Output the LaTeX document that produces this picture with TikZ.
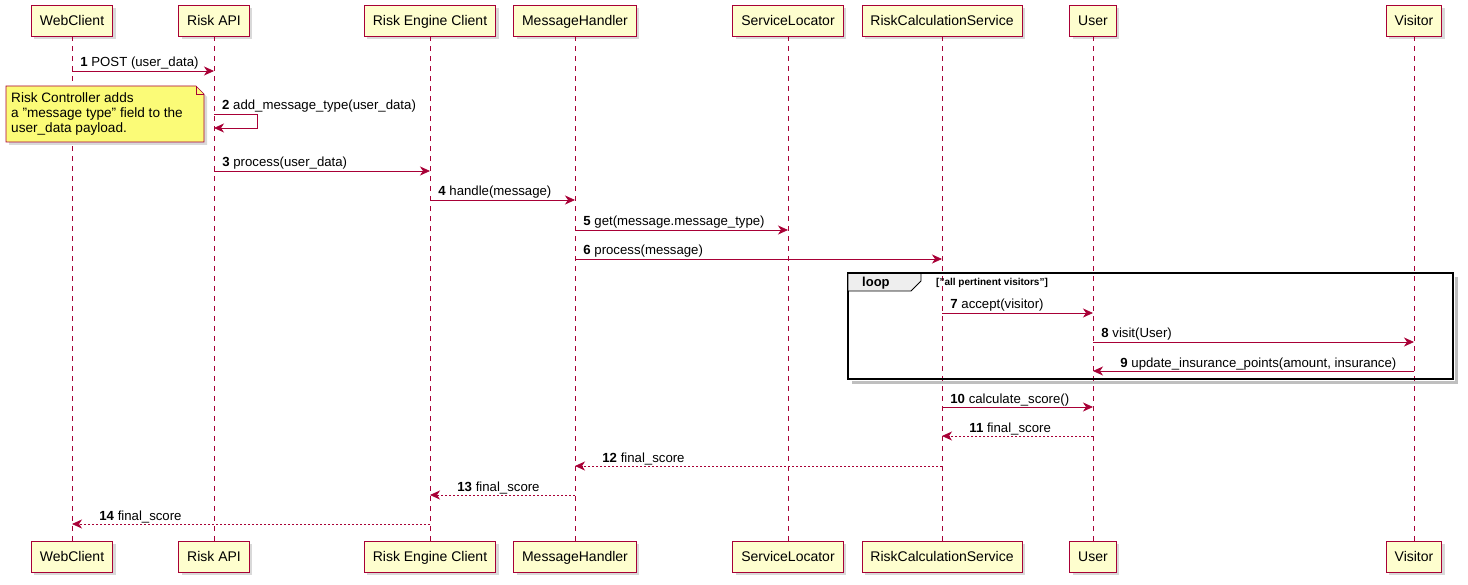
\documentclass[tikz,border=0pt]{standalone}
\usepackage{fontspec}
\setmainfont{Liberation Sans}
\usepackage{xcolor}
\usetikzlibrary{arrows.meta,shadows}
\definecolor{umlred}{HTML}{A80036}
\definecolor{partfill}{HTML}{FEFECE}
\definecolor{notefill}{HTML}{FBFB77}
\definecolor{tabgray}{HTML}{EEEEEE}

\tikzset{
  part/.style={draw=umlred, fill=partfill, line width=0.8pt, minimum height=31pt, inner xsep=8.5pt,
    text height=11pt, text depth=1pt, font=\fontsize{14}{16}\selectfont,
    drop shadow={shadow xshift=3pt, shadow yshift=-3pt, opacity=0.3}},
  life/.style={umlred, line width=0.7pt, dash pattern=on 5pt off 5pt},
  call/.style={umlred, line width=0.8pt, -{Stealth[length=10pt, width=9pt, inset=3pt]}},
  reply/.style={call, dash pattern=on 2pt off 2pt},
  lblR/.style={anchor=base west, xshift=8pt, yshift=4pt, inner sep=0pt, text=black,
    font=\fontsize{13.2}{15}\selectfont},
  lblL/.style={lblR, xshift=19pt}
}

\begin{document}
\begin{tikzpicture}[x=1pt, y=-1pt]
\useasboundingbox (0,0) rectangle (1468,585);

% participants
\foreach \nm/\xx/\txt in {wc/72/WebClient, api/214/Risk API, rec/430/Risk Engine Client,
    mh/575/MessageHandler, sl/788/ServiceLocator, rcs/942/RiskCalculationService,
    usr/1093/User, vis/1414/Visitor}{
  \node[part] (\nm) at (\xx,20.5) {\txt};
  \node[part] (\nm B) at (\xx,556.5) {\txt};
  \draw[life] (\nm.south) -- (\nm B.north);
}

% note
\path[draw=umlred, fill=notefill, line width=0.6pt, drop shadow={shadow xshift=3pt, shadow yshift=-3pt, opacity=0.3}]
  (6,86) -- (196,86) -- (204,94) -- (204,142) -- (6,142) -- cycle;
\draw[umlred, line width=0.6pt] (196,86) -- (196,94) -- (204,94);
\node[anchor=north west, align=left, inner sep=0pt, font=\fontsize{13.6}{15}\selectfont] (note) at (11,92.5)
  {Risk Controller adds\\a "message type" field to the\\user\_data payload.};

% loop frame
\draw[black!25, line width=2.5pt] (852,382.5) -- (1456.5,382.5) -- (1456.5,277);
\draw[line width=1.8pt] (848,273) rectangle (1453,379);
\draw[fill=tabgray, line width=0.8pt] (848,273) -- (921,273) -- (921,281) -- (911,291) -- (848,291) -- cycle;
\draw[line width=1.8pt] (848,273) -- (1453,273);
\node[font=\bfseries\fontsize{13}{14}\selectfont, anchor=base west, inner sep=0pt] (looptag) at (862,287) {loop};
\node[font=\bfseries\fontsize{10}{11}\selectfont, anchor=base west, inner sep=0pt] (guard) at (936,286) {["all pertinent visitors"]};

% messages
\draw[call] (wc |- 0,71) -- (api |- 0,71) node[lblR, at start] {\textbf{1} POST (user\_data)};
\draw[call] (api |- 0,114) -- (257,114) -- (257,128) -- (api |- 0,128);
\node[lblR] (m2) at (api |- 0,114) {\textbf{2} add\_message\_type(user\_data)};
\draw[call] (api |- 0,171) -- (rec |- 0,171) node[lblR, at start] {\textbf{3} process(user\_data)};
\draw[call] (rec |- 0,200) -- (mh |- 0,200) node[lblR, at start] {\textbf{4} handle(message)};
\draw[call] (mh |- 0,230) -- (sl |- 0,230) node[lblR, at start] {\textbf{5} get(message.message\_type)};
\draw[call] (mh |- 0,259) -- (rcs |- 0,259) node[lblR, at start] {\textbf{6} process(message)};
\draw[call] (rcs |- 0,313) -- (usr |- 0,313) node[lblR, at start] {\textbf{7} accept(visitor)};
\draw[call] (usr |- 0,342) -- (vis |- 0,342) node[lblR, at start] {\textbf{8} visit(User)};
\draw[call] (vis |- 0,371) -- (usr |- 0,371) node[lblL, at end] {\textbf{9} update\_insurance\_points(amount, insurance)};
\draw[call] (rcs |- 0,407) -- (usr |- 0,407) node[lblR, at start] {\textbf{10} calculate\_score()};
\draw[reply] (usr |- 0,436) -- (rcs |- 0,436) node[lblL, at end] {\textbf{11} final\_score};
\draw[reply] (rcs |- 0,466) -- (mh |- 0,466) node[lblL, at end] {\textbf{12} final\_score};
\draw[reply] (mh |- 0,495) -- (rec |- 0,495) node[lblL, at end] {\textbf{13} final\_score};
\draw[reply] (rec |- 0,524) -- (wc |- 0,524) node[lblL, at end] {\textbf{14} final\_score};
\end{tikzpicture}
\end{document}
